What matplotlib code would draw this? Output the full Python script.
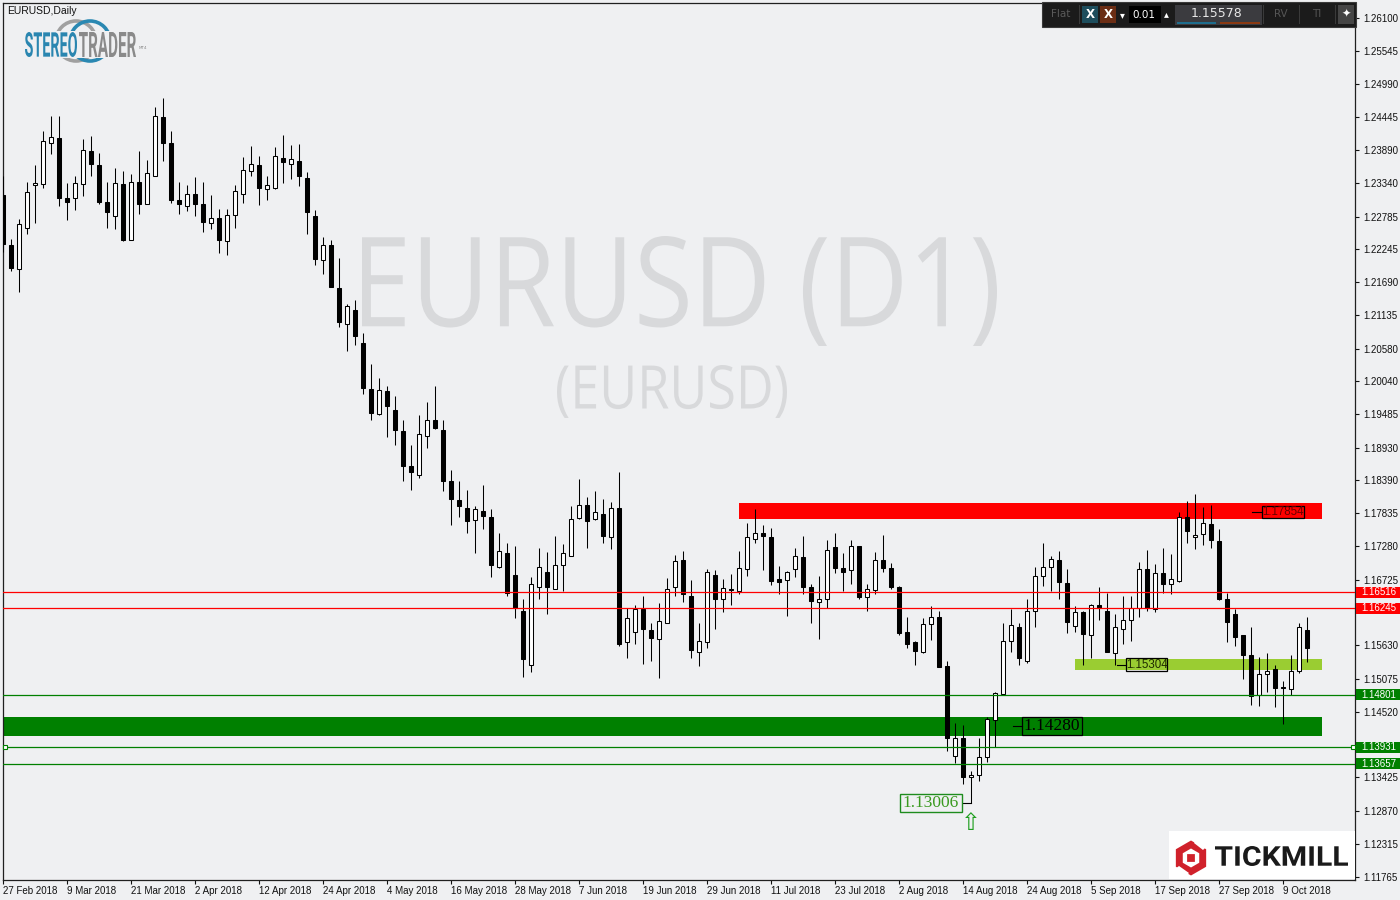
import matplotlib
matplotlib.use("Agg")
import matplotlib.pyplot as plt
import matplotlib.transforms as mtransforms
from matplotlib.patches import Rectangle, PathPatch, Circle, RegularPolygon, Polygon
from matplotlib.textpath import TextPath
from matplotlib.font_manager import FontProperties
import numpy as np

# ---------------- data (EURUSD daily, 27 Feb 2018 - 12 Oct 2018) ----------------
opens = [
 1.2315,1.2231,1.2191,1.2259,1.2331,1.2333,1.2402,1.2410,1.2309,1.2310,
 1.2333,1.2388,1.2365,1.2303,1.2279,1.2333,1.2239,1.2337,1.2299,1.2347,
 1.2444,1.2401,1.2306,1.2297,1.2316,1.2299,1.2267,1.2276,1.2237,1.2281,
 1.2316,1.2354,1.2364,1.2324,1.2326,1.2376,1.2367,1.2371,1.2343,1.2280,
 1.2206,1.2231,1.2159,1.2100,1.2122,1.2067,1.1990,1.1949,1.1987,1.1955,
 1.1920,1.1862,1.1847,1.1913,1.1939,1.1923,1.1837,1.1805,1.1792,1.1772,
 1.1787,1.1777,1.1693,1.1717,1.1680,1.1621,1.1530,1.1660,1.1685,1.1657,
 1.1697,1.1712,1.1775,1.1798,1.1773,1.1782,1.1743,1.1792,1.1568,1.1585,
 1.1623,1.1588,1.1573,1.1600,1.1660,1.1705,1.1646,1.1551,1.1568,1.1680,
 1.1640,1.1657,1.1653,1.1690,1.1740,1.1750,1.1743,1.1673,1.1672,1.1690,
 1.1710,1.1660,1.1636,1.1641,1.1727,1.1692,1.1688,1.1728,1.1643,1.1655,
 1.1705,1.1692,1.1660,1.1585,1.1568,1.1552,1.1598,1.1610,1.1528,1.1378,
 1.1409,1.1343,1.1346,1.1376,1.1438,1.1481,1.1570,1.1593,1.1536,1.1620,
 1.1678,1.1693,1.1705,1.1667,1.1596,1.1618,1.1580,1.1630,1.1621,1.1550,
 1.1591,1.1605,1.1625,1.1690,1.1623,1.1683,1.1665,1.1671,1.1777,1.1743,
 1.1748,1.1765,1.1737,1.1640,1.1616,1.1580,1.1546,1.1480,1.1515,1.1523,
 1.1493,1.1490,1.1520,1.1588]
highs = [
 1.2347,1.2241,1.2275,1.2336,1.2365,1.2421,1.2446,1.2446,1.2335,1.2346,
 1.2408,1.2413,1.2385,1.2336,1.2360,1.2355,1.2350,1.2388,1.2373,1.2461,
 1.2476,1.2421,1.2336,1.2331,1.2345,1.2336,1.2315,1.2291,1.2291,1.2331,
 1.2378,1.2396,1.2380,1.2346,1.2395,1.2415,1.2398,1.2400,1.2353,1.2290,
 1.2244,1.2239,1.2209,1.2133,1.2139,1.2084,1.2033,1.2009,1.1996,1.1979,
 1.1939,1.1897,1.1947,1.1969,1.1996,1.1939,1.1856,1.1837,1.1822,1.1795,
 1.1831,1.1790,1.1750,1.1733,1.1728,1.1640,1.1677,1.1725,1.1718,1.1745,
 1.1732,1.1795,1.1841,1.1810,1.1820,1.1808,1.1802,1.1852,1.1626,1.1630,
 1.1645,1.1600,1.1633,1.1675,1.1714,1.1720,1.1672,1.1600,1.1690,1.1688,
 1.1674,1.1682,1.1720,1.1767,1.1790,1.1763,1.1758,1.1695,1.1687,1.1725,
 1.1745,1.1665,1.1679,1.1738,1.1750,1.1717,1.1738,1.1729,1.1665,1.1718,
 1.1747,1.1700,1.1662,1.1611,1.1571,1.1608,1.1629,1.1620,1.1536,1.1433,
 1.1430,1.1354,1.1409,1.1444,1.1485,1.1601,1.1624,1.1600,1.1640,1.1693,
 1.1734,1.1712,1.1720,1.1690,1.1629,1.1620,1.1632,1.1660,1.1650,1.1616,
 1.1645,1.1646,1.1702,1.1722,1.1699,1.1725,1.1715,1.1785,1.1804,1.1816,
 1.1793,1.1798,1.1757,1.1651,1.1624,1.1581,1.1593,1.1543,1.1550,1.1530,
 1.1503,1.1546,1.1600,1.1610]
lows = [
 1.2220,1.2187,1.2153,1.2250,1.2268,1.2327,1.2383,1.2297,1.2272,1.2290,
 1.2313,1.2347,1.2300,1.2260,1.2257,1.2238,1.2239,1.2283,1.2299,1.2347,
 1.2372,1.2301,1.2283,1.2288,1.2280,1.2253,1.2257,1.2218,1.2215,1.2260,
 1.2302,1.2347,1.2298,1.2307,1.2324,1.2335,1.2341,1.2329,1.2249,1.2197,
 1.2182,1.2161,1.2095,1.2055,1.2064,1.1982,1.1939,1.1947,1.1910,1.1897,
 1.1838,1.1823,1.1843,1.1892,1.1924,1.1820,1.1763,1.1777,1.1750,1.1717,
 1.1757,1.1677,1.1692,1.1646,1.1608,1.1510,1.1518,1.1641,1.1616,1.1657,
 1.1653,1.1712,1.1773,1.1726,1.1772,1.1733,1.1724,1.1562,1.1542,1.1566,
 1.1531,1.1536,1.1508,1.1600,1.1646,1.1635,1.1541,1.1528,1.1558,1.1591,
 1.1619,1.1631,1.1649,1.1679,1.1733,1.1689,1.1664,1.1649,1.1612,1.1677,
 1.1649,1.1601,1.1574,1.1626,1.1683,1.1654,1.1665,1.1640,1.1620,1.1648,
 1.1685,1.1657,1.1581,1.1559,1.1530,1.1550,1.1572,1.1526,1.1387,1.1367,
 1.1331,1.13006,1.1336,1.1368,1.1394,1.1481,1.1552,1.1530,1.1534,1.1594,
 1.1662,1.1653,1.1641,1.1584,1.1585,1.1530,1.1542,1.1606,1.1551,1.15304,
 1.1566,1.1570,1.1610,1.1621,1.1618,1.1651,1.1649,1.1669,1.1733,1.1724,
 1.1730,1.1726,1.1639,1.1569,1.1562,1.1506,1.1464,1.1462,1.1485,1.1460,
 1.1432,1.1480,1.1517,1.1535]
closes = [
 1.2232,1.2193,1.2266,1.2319,1.2335,1.2405,1.2411,1.2310,1.2303,1.2334,
 1.2389,1.2367,1.2303,1.2287,1.2334,1.2240,1.2337,1.2300,1.2352,1.2446,
 1.2401,1.2307,1.2299,1.2316,1.2300,1.2269,1.2277,1.2240,1.2281,1.2321,
 1.2356,1.2367,1.2326,1.2331,1.2379,1.2369,1.2374,1.2346,1.2287,1.2207,
 1.2231,1.2161,1.2102,1.2129,1.2079,1.1992,1.1950,1.1989,1.1962,1.1922,
 1.1863,1.1852,1.1915,1.1939,1.1926,1.1837,1.1808,1.1795,1.1770,1.1790,
 1.1778,1.1697,1.1720,1.1650,1.1625,1.1540,1.1665,1.1693,1.1660,1.1697,
 1.1717,1.1773,1.1798,1.1770,1.1785,1.1745,1.1792,1.1566,1.1608,1.1623,
 1.1590,1.1575,1.1603,1.1657,1.1703,1.1648,1.1555,1.1570,1.1685,1.1640,
 1.1658,1.1656,1.1692,1.1743,1.1750,1.1745,1.1671,1.1669,1.1685,1.1712,
 1.1661,1.1637,1.1641,1.1722,1.1692,1.1685,1.1728,1.1643,1.1657,1.1705,
 1.1692,1.1660,1.1584,1.1566,1.1553,1.1598,1.1611,1.1527,1.1408,1.1409,
 1.1343,1.1346,1.1376,1.1440,1.1483,1.1571,1.1597,1.1541,1.1621,1.1678,
 1.1693,1.1707,1.1668,1.1602,1.1618,1.1582,1.1630,1.1625,1.1552,1.1593,
 1.1605,1.1626,1.1690,1.1625,1.1683,1.1666,1.1673,1.1777,1.1754,1.1747,
 1.1767,1.1739,1.1641,1.1602,1.1577,1.1547,1.1478,1.1515,1.1520,1.1491,
 1.1491,1.1520,1.1593,1.15578]

date_labels = ["27 Feb 2018", "9 Mar 2018", "21 Mar 2018", "2 Apr 2018", "12 Apr 2018",
               "24 Apr 2018", "4 May 2018", "16 May 2018", "28 May 2018", "7 Jun 2018",
               "19 Jun 2018", "29 Jun 2018", "11 Jul 2018", "23 Jul 2018", "2 Aug 2018",
               "14 Aug 2018", "24 Aug 2018", "5 Sep 2018", "17 Sep 2018", "27 Sep 2018",
               "9 Oct 2018"]
price_ticks = [1.26100, 1.25545, 1.24990, 1.24445, 1.23890, 1.23340, 1.22785, 1.22245,
               1.21690, 1.21135, 1.20580, 1.20040, 1.19485, 1.18930, 1.18390, 1.17835,
               1.17280, 1.16725, 1.15630, 1.15075, 1.14520, 1.13425,
               1.12870, 1.12315, 1.11765]

# horizontal level lines with axis labels
level_prices = [1.16516, 1.16245, 1.14801, 1.13931, 1.13657]
level_colors = ["#FF0000", "#FF0000", "#008000", "#008000", "#008000"]

# zones (rectangles)
zone_lo = [1.17738, 1.15218, 1.14116]
zone_hi = [1.18005, 1.15406, 1.14433]
zone_start = [92.0, 134.0, 0.0]
zone_end = [164.9, 164.9, 164.9]
zone_colors = ["#FF0000", "#9ACD32", "#008000"]

# price callouts
mark_prices = [1.17854, 1.15304, 1.14280, 1.13006]
current_price = 1.15578

# ---------------- figure ----------------
BG = "#EFF0F2"
W, H = 1400, 900
PX = 0.0001669          # price per pixel
plt.rcParams["font.family"] = ["DejaVu Sans"]
fig = plt.figure(figsize=(14, 9), dpi=100, facecolor=BG)
ax = fig.add_axes([3 / W, 20 / H, 1352 / W, 877 / H], facecolor=BG)
ax.set_xlim(0, 169)
ax.set_ylim(1.11713, 1.26350)


def path_text(s, x0, y0, x1, y1, color, family="Roboto", weight="bold",
              target=None, zorder=1, ec="none", lw=0.0):
    tp = TextPath((0, 0), s, size=100, prop=FontProperties(family=family, weight=weight))
    bb = tp.get_extents()
    sx = (x1 - x0) / bb.width
    sy = (y1 - y0) / bb.height
    tr = mtransforms.Affine2D().translate(-bb.x0, -bb.y0).scale(sx, sy).translate(x0, H - y1)
    p = PathPatch(tr.transform_path(tp), facecolor=color, edgecolor=ec, lw=lw,
                  transform=mtransforms.IdentityTransform(), zorder=zorder)
    if target is None:
        fig.add_artist(p)
    else:
        target.add_artist(p)
    return p


# watermark
path_text("EURUSD (D1)", 362, 236, 997, 346, "#D8D9DB", family="Open Sans",
          weight="normal", target=ax, zorder=0.5)
path_text("(EURUSD)", 557, 365, 787, 418, "#D8D9DB", family="Open Sans",
          weight="normal", target=ax, zorder=0.5)

# zones
for lo, hi, xs, xe, col in zip(zone_lo, zone_hi, zone_start, zone_end, zone_colors):
    ax.fill_between([xs, xe], lo, hi, color=col, lw=0, zorder=2)

# candles
o = np.array(opens); h = np.array(highs); l = np.array(lows); c = np.array(closes)
x = np.arange(len(o))
up = c >= o
ax.vlines(x, l, h, color="black", lw=0.75, zorder=3)
blo = np.minimum(o, c)
bh = np.maximum(np.abs(c - o), 1e-6)
ax.bar(x[up], bh[up], bottom=blo[up], width=0.5, facecolor="white",
       edgecolor="black", linewidth=0.75, zorder=4)
ax.bar(x[~up], bh[~up], bottom=blo[~up], width=0.5, facecolor="black",
       edgecolor="black", linewidth=0.75, zorder=4)

# level lines
for p, col in zip(level_prices, level_colors):
    ax.axhline(p, color=col, lw=0.9, zorder=5)
ax.plot([0.25, 168.8], [level_prices[3]] * 2, ls="none", marker="s", ms=3.2,
        mfc="white", mec="#008000", mew=0.8, zorder=6, clip_on=False)

# callout labels
bt = mtransforms.blended_transform_factory(ax.transAxes, ax.transData)


def callout(price, lx0, bx0, bx1, hpx, txtcol, edgecol, face, size, family):
    ax.plot([lx0, bx0], [price, price], color="black", lw=0.8, zorder=7)
    ax.add_patch(Rectangle((bx0, price - hpx * PX / 2), bx1 - bx0, hpx * PX,
                           facecolor=face, edgecolor=edgecol, lw=0.9, zorder=7))
    ax.text((bx0 + bx1) / 2, price, f"{price:.5f}", color=txtcol, fontsize=size,
            family=family, ha="center", va="center", zorder=8)


callout(mark_prices[0], 156.1, 157.4, 162.6, 12, "#6A0000", "black", "none", 8.3, "Liberation Sans")
callout(mark_prices[1], 139.2, 140.4, 145.5, 13, "#1E2A00", "black", "none", 8.3, "Liberation Sans")
callout(mark_prices[2], 126.2, 127.4, 134.9, 18, "black", "black", "none", 12.5, "Liberation Serif")
ax.plot([119.9, 121.0], [mark_prices[3]] * 2, color="black", lw=0.8, zorder=7)
ax.add_patch(Rectangle((112.1, mark_prices[3] - 9 * PX), 7.8, 18 * PX, facecolor=BG,
                       edgecolor="#1E8C1E", lw=1.0, zorder=7))
ax.text(116.0, mark_prices[3], f"{mark_prices[3]:.5f}", color="#3A9A20", fontsize=12.5,
        family="Liberation Serif", ha="center", va="center", zorder=8)
ax.text(121, mark_prices[3] - 20 * PX, "\u21e7", color="#1E9E1E", fontsize=17,
        ha="center", va="center", zorder=8)

# axis styling
for s in ax.spines.values():
    s.set_color("#202020")
    s.set_linewidth(0.9)
ax.yaxis.tick_right()
ax.set_yticks(price_ticks)
ax.set_yticklabels([f"{v:.5f}" for v in price_ticks], family="Liberation Sans")
ax.tick_params(axis="y", direction="out", length=3, width=0.8, labelsize=7, pad=3,
               colors="#111111")
ax.set_xticks(np.arange(0, len(date_labels) * 8, 8))
ax.set_xticklabels(date_labels, family="Liberation Sans")
for t in ax.get_xticklabels():
    t.set_ha("left")
ax.tick_params(axis="x", direction="out", length=3, width=0.8, labelsize=7, pad=1.5,
               colors="#111111")

# right-axis level labels
for p, col in zip(level_prices, level_colors):
    ax.add_patch(Rectangle((1.0005, p - 5.5 * PX), 0.0325, 11 * PX, transform=bt,
                           facecolor=col, edgecolor="none", clip_on=False, zorder=20))
    ax.text(1.0048, p, f"{p:.5f}", transform=bt, color="white", fontsize=7,
            family="Liberation Sans", va="center", ha="left", clip_on=False, zorder=21)

# top-left caption and StereoTrader logo
fig.text(7 / W, 1 - 10.5 / H, "EURUSD,Daily", fontsize=7.5, color="#111111",
         family="Liberation Sans", va="center", ha="left")
gray_ring = Circle((76, H - 41), 20, transform=mtransforms.IdentityTransform(),
                   facecolor="none", edgecolor="#A0A0A0", lw=2.6, zorder=2)
blue_ring = Circle((90, H - 41), 20, transform=mtransforms.IdentityTransform(),
                   facecolor="none", edgecolor="#2A88B2", lw=2.6, zorder=2)
fig.add_artist(gray_ring)
fig.add_artist(blue_ring)
prect_bg = Rectangle((24, H - 58), 114, 27, transform=mtransforms.IdentityTransform(),
                     facecolor=BG, edgecolor="none", zorder=2.5)
fig.add_artist(prect_bg)
path_text("STEREO", 25, 32, 77, 57, "#2A86B0", family="Roboto", weight="bold", zorder=3)
path_text("TRADER", 79, 32, 136, 57, "#8A8A8A", family="Roboto", weight="bold", zorder=3)
fig.text(143 / W, 1 - 48 / H, "MT4", fontsize=3, color="#8A8A8A", va="center", ha="center")

# top-right trading panel
IT = mtransforms.IdentityTransform()


def prect(x0, y0, x1, y1, col, ec="none", lw=0.0, z=30):
    fig.add_artist(Rectangle((x0, H - y1), x1 - x0, y1 - y0, transform=IT,
                             facecolor=col, edgecolor=ec, lw=lw, zorder=z))


def ptext(xc, yc, s, col, size, weight="normal"):
    fig.text(xc / W, 1 - yc / H, s, color=col, fontsize=size, weight=weight,
             ha="center", va="center", zorder=32)


prect(1042, 2, 1356, 27, "#1B1B1B", ec="#3A3A3A", lw=0.8)
for sx in [1079, 1263, 1299, 1335]:
    prect(sx, 5, sx + 1, 24, "#3A3A3A", z=31)
ptext(1061, 14, "Flat", "#5A5A5A", 7.5)
prect(1082, 6, 1098, 23, "#1D4D5C", z=31)
ptext(1090, 14.5, "X", "white", 8.5, "bold")
prect(1100, 6, 1116, 23, "#6B2D14", z=31)
ptext(1108, 14.5, "X", "white", 8.5, "bold")
ptext(1122, 15, "\u25be", "white", 7)
prect(1129, 6, 1161, 23, "#000000", z=31)
ptext(1144, 14.5, "0.01", "white", 7.5)
ptext(1166, 14, "\u25b4", "white", 7)
prect(1175, 5, 1262, 25, "#3B3B3F", z=31)
ptext(1217, 13.5, f"{current_price:.5f}", "#E6E6E6", 9)
prect(1177, 21.5, 1216, 23.5, "#1E6E8E", z=31)
prect(1220, 21.5, 1260, 23.5, "#8B3A12", z=31)
ptext(1281, 14, "RV", "#555555", 7.5)
ptext(1317, 14, "TI", "#555555", 7.5)
prect(1338, 5, 1354, 24, "#454545", z=31)
ptext(1346, 14, "\u2726", "white", 8)

# Tickmill logo
prect(1169, 831, 1355, 878.5, "white", z=30)
fig.add_artist(RegularPolygon((1191, H - 858), 6, radius=17.5, orientation=0,
                              transform=IT, facecolor="#D0212B", edgecolor="none", zorder=31))
fig.add_artist(RegularPolygon((1191, H - 858), 6, radius=9.5, orientation=0,
                              transform=IT, facecolor="white", edgecolor="none", zorder=32))
fig.add_artist(Polygon([(1197, H - 838), (1207, H - 846), (1203, H - 850), (1194, H - 843)],
                       closed=True, transform=IT, facecolor="white", edgecolor="none", zorder=33))
fig.add_artist(Polygon([(1175, H - 869), (1185, H - 877), (1189, H - 873), (1179, H - 866)],
                       closed=True, transform=IT, facecolor="white", edgecolor="none", zorder=33))
fig.add_artist(RegularPolygon((1191, H - 858), 4, radius=5.5, orientation=0.785,
                              transform=IT, facecolor="#D0212B", edgecolor="none", zorder=34))
path_text("TICKMILL", 1215, 846, 1348, 866, "#1A1A1A", family="Roboto", weight="bold",
          zorder=34)

fig.savefig("out.png", dpi=100, facecolor=BG)
